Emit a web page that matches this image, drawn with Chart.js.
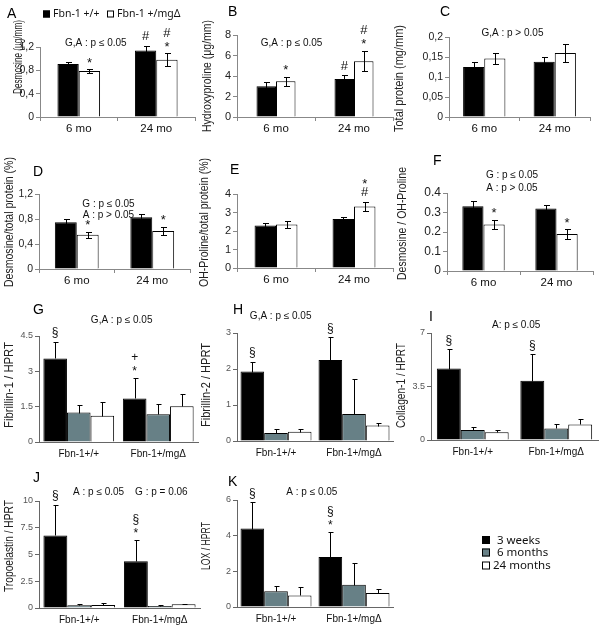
<!DOCTYPE html>
<html>
<head>
<meta charset="utf-8">
<script src="https://cdn.jsdelivr.net/npm/chart.js@4.4.0/dist/chart.umd.min.js"></script>
<style>
body { margin: 0; background: #fff; }
#wrap { position: relative; width: 601px; height: 632px; }
#wrap canvas { position: absolute; left: 0; top: 0; }
</style>
</head>
<body>
<div id="wrap"></div>
<script>
// categories / series names
const ageCats = ['6 mo', '24 mo'];
const genoCats = ['Fbn-1+/+', 'Fbn-1+/mgΔ'];
const genoNames = ['Fbn-1 +/+', 'Fbn-1 +/mgΔ'];
const ageNames = ['3 weeks', '6 months', '24 months'];

// A - desmosine
const desmoWT = [0.91, 1.14], desmoWTErr = [0.04, 0.08];
const desmoMG = [0.79, 0.98], desmoMGErr = [0.03, 0.11];
// B - hydroxyproline
const hypWT = [3.0, 3.7], hypWTErr = [0.38, 0.4];
const hypMG = [3.5, 5.45], hypMGErr = [0.45, 1.0];
// C - total protein
const protWT = [0.125, 0.138], protWTErr = [0.012, 0.012];
const protMG = [0.146, 0.160], protMGErr = [0.013, 0.023];
// D - desmosine / total protein
const desProtWT = [0.75, 0.83], desProtWTErr = [0.05, 0.05];
const desProtMG = [0.55, 0.61], desProtMGErr = [0.05, 0.065];
// E - OH-proline / total protein
const ohProtWT = [2.3, 2.65], ohProtWTErr = [0.15, 0.12];
const ohProtMG = [2.35, 3.33], ohProtMGErr = [0.2, 0.25];
// F - desmosine / OH-proline
const desOhWT = [0.332, 0.32], desOhWTErr = [0.027, 0.017];
const desOhMG = [0.239, 0.19], desOhMGErr = [0.025, 0.025];

// G..K - mRNA / HPRT, [Fbn-1+/+, Fbn-1+/mgΔ] per age
const fbn1 = [[3.55, 1.85], [1.25, 1.18], [1.11, 1.52]];
const fbn1Err = [[0.71, 0.88], [0.3, 0.42], [0.58, 0.5]];
const fbn2 = [[1.93, 2.25], [0.22, 0.75], [0.26, 0.43]];
const fbn2Err = [[0.26, 0.63], [0.1, 0.97], [0.08, 0.07]];
const col1 = [[4.67, 3.87], [0.65, 0.76], [0.5, 1.02]];
const col1Err = [[1.26, 1.73], [0.22, 0.28], [0.15, 0.33]];
const tropo = [[6.78, 4.37], [0.25, 0.19], [0.28, 0.34]];
const tropoErr = [[2.88, 2.03], [0.12, 0.12], [0.18, 0.06]];
const lox = [[4.4, 2.8], [0.88, 1.25], [0.65, 0.78]];
const loxErr = [[1.47, 1.43], [0.27, 1.21], [0.47, 0.22]];

// y ticks
const ticksA = [0, 0.4, 0.8, 1.2], tickLabelsA = ['0', '0,4', '0,8', '1,2'];
const ticksB = [0, 2, 4, 6, 8], tickLabelsB = ['0', '2', '4', '6', '8'];
const ticksC = [0, 0.05, 0.1, 0.15, 0.2], tickLabelsC = ['0', '0,05', '0,1', '0,15', '0,2'];
const ticksD = [0, 0.4, 0.8, 1.2], tickLabelsD = ['0', '0,4', '0,8', '1,2'];
const ticksE = [0, 1, 2, 3, 4], tickLabelsE = ['0', '1', '2', '3', '4'];
const ticksF = [0, 0.1, 0.2, 0.3, 0.4], tickLabelsF = ['0', '0.1', '0.2', '0.3', '0.4'];
const ticksG = [0, 1.5, 3, 4.5], tickLabelsG = ['0', '1.5', '3', '4.5'];
const ticksH = [0, 1, 2, 3], tickLabelsH = ['0', '1', '2', '3'];
const ticksI = [0, 3.5, 7], tickLabelsI = ['0', '3.5', '7'];
const ticksJ = [0, 2.5, 5, 7.5, 10], tickLabelsJ = ['0', '2.5', '5', '7.5', '10'];
const ticksK = [0, 2, 4, 6], tickLabelsK = ['0', '2', '4', '6'];

// significance marks: [dataset, category, symbol], stacked upward in order
const marksA = [[1, 0, '*'], [0, 1, '#'], [1, 1, '*'], [1, 1, '#']];
const marksB = [[1, 0, '*'], [0, 1, '#'], [1, 1, '*'], [1, 1, '#']];
const marksC = [];
const marksD = [[1, 0, '*'], [1, 1, '*']];
const marksE = [[1, 1, '#'], [1, 1, '*']];
const marksF = [[1, 0, '*'], [1, 1, '*']];
const marksG = [[0, 0, '§'], [0, 1, '*'], [0, 1, '+']];
const marksH = [[0, 0, '§'], [0, 1, '§']];
const marksI = [[0, 0, '§'], [0, 1, '§']];
const marksJ = [[0, 0, '§'], [0, 1, '*'], [0, 1, '§']];
const marksK = [[0, 0, '§'], [0, 1, '*'], [0, 1, '§']];

// stat texts: [text, x fraction of plot, y value]
const statA = [['G,A : p ≤ 0.05', 0.36, 1.27]];
const statB = [['G,A : p ≤ 0.05', 0.35, 7.2]];
const statC = [['G,A : p > 0.05', 0.45, 0.21]];
const statD = [['G : p ≤ 0.05', 0.46, 1.04], ['A : p > 0.05', 0.46, 0.86]];
const statE = [];
const statF = [['G : p ≤ 0.05', 0.445, 0.49], ['A : p > 0.05', 0.445, 0.426]];
const statG = [['G,A : p ≤ 0.05', 0.52, 5.15]];
const statH = [['G,A : p ≤ 0.05', 0.28, 3.47]];
const statI = [['A: p ≤ 0.05', 0.51, 7.5]];
const statJ = [['A : p ≤ 0.05', 0.37, 10.84], ['G : p = 0.06', 0.76, 10.84]];
const statK = [['A : p ≤ 0.05', 0.48, 6.45]];

const pairColors = ['#000000', '#ffffff'];
const trioColors = ['#000000', '#678086', '#ffffff'];

const FONT = "'Liberation Sans', Arial, sans-serif";
const AXW = 30, AXH = 22;

// box = [plotLeft, plotRight, plotTop, plotBottom]; tbox = [titleX, titleTop, titleBottom]
const top6 = {twoSided: true, cap: 2.5, tickFont: 11, tickColor: '#222', xFont: 11.5, xTick: 4, xPad: 1, axisColor: '#888', markFont: 13};
const mrna = {twoSided: false, cap: 2, tickFont: 9, tickColor: '#555', xFont: 10, xTick: 0, xPad: 6, axisColor: '#666', markFont: 12};

const panels = [
  Object.assign({}, top6, {letter: 'A', lpos: [7, 14], cats: ageCats, names: genoNames, colors: pairColors,
    series: [desmoWT, desmoMG], errs: [desmoWTErr, desmoMGErr], yMax: 1.2, ticks: ticksA, tickLabels: tickLabelsA,
    marks: marksA, stats: statA, title: 'Desmosine (μg/mm)', tbox: [19, 20, 94], box: [40, 195, 47, 117], cp: 0.55, tickFont: 10.5}),
  Object.assign({}, top6, {letter: 'B', lpos: [228, 12], cats: ageCats, names: genoNames, colors: pairColors,
    series: [hypWT, hypMG], errs: [hypWTErr, hypMGErr], yMax: 8, ticks: ticksB, tickLabels: tickLabelsB,
    marks: marksB, stats: statB, title: 'Hydroxyproline (μg/mm)', tbox: [208, 20, 132], box: [237, 393, 35, 117], cp: 0.5}),
  Object.assign({}, top6, {letter: 'C', lpos: [440, 12], cats: ageCats, names: genoNames, colors: pairColors,
    series: [protWT, protMG], errs: [protWTErr, protMGErr], yMax: 0.2, ticks: ticksC, tickLabels: tickLabelsC,
    marks: marksC, stats: statC, title: 'Total protein (mg/mm)', tbox: [400, 25, 132], box: [449, 590, 37, 117], cp: 0.6, tickFont: 10.5}),
  Object.assign({}, top6, {letter: 'D', lpos: [33, 172], cats: ageCats, names: genoNames, colors: pairColors,
    series: [desProtWT, desProtMG], errs: [desProtWTErr, desProtMGErr], yMax: 1.2, ticks: ticksD, tickLabels: tickLabelsD,
    marks: marksD, stats: statD, title: 'Desmosine/total protein (%)', tbox: [10, 157, 287], box: [39, 190, 194, 269], cp: 0.58, tickFont: 10.5}),
  Object.assign({}, top6, {letter: 'E', lpos: [230, 170], cats: ageCats, names: genoNames, colors: pairColors,
    series: [ohProtWT, ohProtMG], errs: [ohProtWTErr, ohProtMGErr], yMax: 4, ticks: ticksE, tickLabels: tickLabelsE,
    marks: marksE, stats: statE, title: 'OH-Proline/total protein (%)', tbox: [205, 158, 287], box: [237, 393, 194, 268], cp: 0.55}),
  Object.assign({}, top6, {letter: 'F', lpos: [433, 161], cats: ageCats, names: genoNames, colors: pairColors,
    series: [desOhWT, desOhMG], errs: [desOhWTErr, desOhMGErr], yMax: 0.4, ticks: ticksF, tickLabels: tickLabelsF,
    marks: marksF, stats: statF, title: 'Desmosine / OH-Proline', tbox: [403, 167, 280], box: [447, 593, 193, 271], cp: 0.58, tickFont: 12}),
  Object.assign({}, mrna, {letter: 'G', lpos: [33, 310], cats: genoCats, names: ageNames, colors: trioColors,
    series: fbn1, errs: fbn1Err, yMax: 4.5, ticks: ticksG, tickLabels: tickLabelsG,
    marks: marksG, stats: statG, title: 'Fibrillin-1 / HPRT', tbox: [10, 342, 428], box: [39, 198, 336, 442], cp: 0.89}),
  Object.assign({}, mrna, {letter: 'H', lpos: [233, 310], cats: genoCats, names: ageNames, colors: trioColors,
    series: fbn2, errs: fbn2Err, yMax: 3, ticks: ticksH, tickLabels: tickLabelsH,
    marks: marksH, stats: statH, title: 'Fibrillin-2 / HPRT', tbox: [207, 343, 427], box: [237, 393, 333, 441], cp: 0.91}),
  Object.assign({}, mrna, {letter: 'I', lpos: [429, 317], cats: genoCats, names: ageNames, colors: trioColors,
    series: col1, errs: col1Err, yMax: 7, ticks: ticksI, tickLabels: tickLabelsI,
    marks: marksI, stats: statI, title: 'Collagen-1 / HPRT', tbox: [402, 343, 428], box: [431, 598, 333, 440], cp: 0.86}),
  Object.assign({}, mrna, {letter: 'J', lpos: [33, 478], cats: genoCats, names: ageNames, colors: trioColors,
    series: tropo, errs: tropoErr, yMax: 10, ticks: ticksJ, tickLabels: tickLabelsJ,
    marks: marksJ, stats: statJ, title: 'Tropoelastin / HPRT', tbox: [10, 500, 592], box: [39, 200, 501, 608], cp: 0.89}),
  Object.assign({}, mrna, {letter: 'K', lpos: [228, 482], cats: genoCats, names: ageNames, colors: trioColors,
    series: lox, errs: loxErr, yMax: 6, ticks: ticksK, tickLabels: tickLabelsK,
    marks: marksK, stats: statK, title: 'LOX / HPRT', tbox: [207, 522, 570], box: [237, 393, 500, 607], cp: 0.91})
];

// legends (drawn once each)
const legendTop = {names: genoNames, colors: pairColors, sq: 7, items: [[43, 14, 53], [107, 14, 117]], font: 10.5};
const legendBottom = {names: ageNames, colors: trioColors, sq: 8, items: [[482, 540, 497], [482, 552.5, 497], [482, 565.5, 493]], font: 11.5};
panels[0].legend = legendTop;
panels[10].legend = legendBottom;

function vText(ctx, text, cx, y0, y1) {
  ctx.save();
  ctx.translate(cx, (y0 + y1) / 2);
  ctx.rotate(-Math.PI / 2);
  const w = ctx.measureText(text).width;
  const s = Math.max(0.6, Math.min(1.2, (y1 - y0) / w));
  ctx.scale(s, 1);
  ctx.textAlign = 'center';
  ctx.textBaseline = 'middle';
  ctx.fillText(text, 0, 0);
  ctx.restore();
}

function drawLegend(ctx, lg) {
  ctx.font = lg.font + "px 'Noto Sans', 'Open Sans', sans-serif";
  ctx.textAlign = 'left';
  ctx.textBaseline = 'middle';
  lg.items.forEach((it, i) => {
    ctx.fillStyle = lg.colors[i];
    ctx.fillRect(it[0], it[1] - lg.sq / 2, lg.sq, lg.sq);
    ctx.strokeStyle = '#000';
    ctx.lineWidth = 1;
    ctx.strokeRect(it[0] + 0.5, it[1] - lg.sq / 2 + 0.5, lg.sq - 1, lg.sq - 1);
    ctx.fillStyle = '#111';
    ctx.fillText(lg.names[i], it[2], it[1] + 0.5);
  });
}

function decoPlugin(p) {
  return {
    id: 'deco',
    afterDatasetsDraw(chart) {
      const ctx = chart.ctx, ys = chart.scales.y;
      ctx.save();
      ctx.strokeStyle = '#000';
      ctx.lineWidth = 1;
      chart.data.datasets.forEach((ds, di) => {
        chart.getDatasetMeta(di).data.forEach((bar, j) => {
          const v = ds.data[j], e = p.errs[di][j];
          const x = Math.round(bar.x) + 0.5;
          const yt = Math.round(ys.getPixelForValue(v + e)) + 0.5;
          const yb = Math.round(ys.getPixelForValue(p.twoSided ? v - e : v)) + 0.5;
          ctx.beginPath();
          ctx.moveTo(x, yb); ctx.lineTo(x, yt);
          ctx.moveTo(x - p.cap, yt); ctx.lineTo(x + p.cap + 1, yt);
          if (p.twoSided) { ctx.moveTo(x - p.cap, yb); ctx.lineTo(x + p.cap + 1, yb); }
          ctx.stroke();
        });
      });
      ctx.restore();
    },
    afterDraw(chart) {
      const ctx = chart.ctx, ys = chart.scales.y, area = chart.chartArea;
      ctx.save();
      ctx.fillStyle = '#111';
      // significance marks above error bars
      const stackCount = {};
      ctx.font = p.markFont + 'px ' + FONT;
      ctx.textAlign = 'center';
      ctx.textBaseline = 'middle';
      p.marks.forEach(m => {
        const key = m[0] + '_' + m[1];
        const k = stackCount[key] || 0;
        stackCount[key] = k + 1;
        const bar = chart.getDatasetMeta(m[0]).data[m[1]];
        const v = p.series[m[0]][m[1]] + p.errs[m[0]][m[1]];
        const yy = ys.getPixelForValue(v) - 9 - 11 * k + (m[2] === '*' ? 3 : 0);
        ctx.fillText(m[2], bar.x, yy);
      });
      // statistics text
      ctx.font = '10px ' + FONT;
      p.stats.forEach(s => {
        ctx.fillText(s[0], area.left + s[1] * (area.right - area.left), ys.getPixelForValue(s[2]));
      });
      // y title
      ctx.font = '12px ' + FONT;
      ctx.fillStyle = '#222';
      vText(ctx, p.title, p.tbox[0], p.tbox[1], p.tbox[2]);
      // panel letter
      ctx.font = '14px ' + FONT;
      ctx.fillStyle = '#000';
      ctx.textAlign = 'left';
      ctx.fillText(p.letter, p.lpos[0], p.lpos[1]);
      if (p.legend) drawLegend(ctx, p.legend);
      ctx.restore();
    }
  };
}

const wrap = document.getElementById('wrap');

panels.forEach(p => {
  const cv = document.createElement('canvas');
  cv.width = 601;
  cv.height = 632;
  wrap.appendChild(cv);
  const datasets = p.series.map((s, i) => ({
    label: p.names[i],
    data: s,
    backgroundColor: p.colors[i],
    borderColor: '#000',
    borderWidth: 1,
    categoryPercentage: p.cp,
    barPercentage: 1.0
  }));
  new Chart(cv, {
    type: 'bar',
    data: { labels: p.cats, datasets: datasets },
    options: {
      responsive: false,
      animation: false,
      events: [],
      layout: { padding: { left: p.box[0] - AXW, right: 601 - p.box[1], top: p.box[2], bottom: 632 - p.box[3] - AXH } },
      plugins: { legend: { display: false }, tooltip: { enabled: false } },
      scales: {
        x: {
          offset: true,
          grid: { offset: true, drawOnChartArea: false, tickLength: p.xTick, color: p.axisColor },
          border: { color: p.axisColor },
          ticks: { font: { family: FONT, size: p.xFont }, color: '#111', padding: p.xPad, maxRotation: 0 },
          afterFit: s => { s.height = AXH; }
        },
        y: {
          min: 0,
          max: p.yMax,
          afterBuildTicks: s => { s.ticks = p.ticks.map(v => ({ value: v })); },
          grid: { drawOnChartArea: false, tickLength: 4, color: p.axisColor },
          border: { color: p.axisColor },
          ticks: { font: { family: FONT, size: p.tickFont }, color: p.tickColor, padding: 2,
            callback: (v, i) => p.tickLabels[i] },
          afterFit: s => { s.width = AXW; }
        }
      }
    },
    plugins: [decoPlugin(p)]
  });
});
</script>
</body>
</html>
